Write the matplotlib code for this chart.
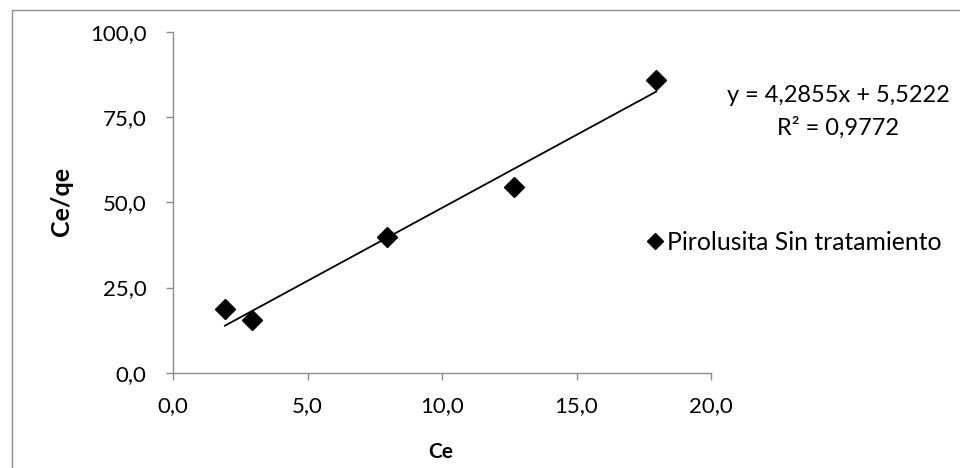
import matplotlib
matplotlib.use("Agg")
import matplotlib.pyplot as plt
from matplotlib.patches import Rectangle
import numpy as np

ce = [1.93, 2.94, 7.96, 12.68, 17.96]
ce_qe = [18.7, 15.5, 39.9, 54.5, 86.0]
slope = 4.2855
intercept = 5.5222
r2_text = "R² = 0,9772"
eq_text = "y = 4,2855x + 5,5222"
series_name = "Pirolusita Sin tratamiento"
xticks = [0, 5, 10, 15, 20]
yticks = [0, 25, 50, 75, 100]

plt.rcParams['font.family'] = ['Lato', 'DejaVu Sans']

W, H = 960, 468
fig = plt.figure(figsize=(W / 100, H / 100), dpi=100)

# outer chart border (top/left visible)
fig.patches.append(Rectangle((12 / W, -0.1), 1.2, 1 - 10 / H + 0.1,
                             transform=fig.transFigure, fill=False,
                             edgecolor='#8c8c8c', linewidth=1.0))

ax = fig.add_axes([173 / W, 1 - 372.7 / H, (711 - 173) / W, (372.7 - 32) / H])
ax.set_xlim(0, 20)
ax.set_ylim(0, 100)

fmt = lambda v: f"{v:.1f}".replace('.', ',')
ax.set_xticks(xticks)
ax.set_xticklabels([fmt(v) for v in xticks])
ax.set_yticks(yticks)
ax.set_yticklabels([fmt(v) for v in yticks])

for s in ['top', 'right']:
    ax.spines[s].set_visible(False)
for s in ['left', 'bottom']:
    ax.spines[s].set_color('#8c8c8c')
    ax.spines[s].set_linewidth(1.0)
ax.tick_params(direction='out', length=5, width=1.0, color='#8c8c8c',
               labelsize=16, labelcolor='black')
ax.tick_params(axis='y', pad=14)
ax.tick_params(axis='x', pad=12)

# trend line
xs = np.array([min(ce), max(ce)])
ax.plot(xs, slope * xs + intercept, color='black', linewidth=1.3, zorder=2)
# points
ax.plot(ce, ce_qe, linestyle='none', marker='D', markersize=10,
        color='black', zorder=3, clip_on=False)

fig.text(441 / W, 1 - 452 / H, "Ce", ha='center', va='center',
         fontsize=15, fontweight='bold')
fig.text(62 / W, 1 - 202 / H, "Ce/qe", ha='center', va='center',
         fontsize=18, fontweight='bold', rotation=90)

fig.text(838 / W, 1 - 96 / H, eq_text, ha='center', va='center', fontsize=17)
fig.text(838 / W, 1 - 128 / H, r2_text, ha='center', va='center', fontsize=17)

# legend
fig.lines.append(plt.Line2D([655 / W], [1 - 241 / H], transform=fig.transFigure,
                            marker='D', markersize=8.5, color='black',
                            linestyle='none'))
fig.text(667 / W, 1 - 242 / H, series_name, ha='left', va='center', fontsize=17.8)

fig.savefig("out.png", dpi=100)
